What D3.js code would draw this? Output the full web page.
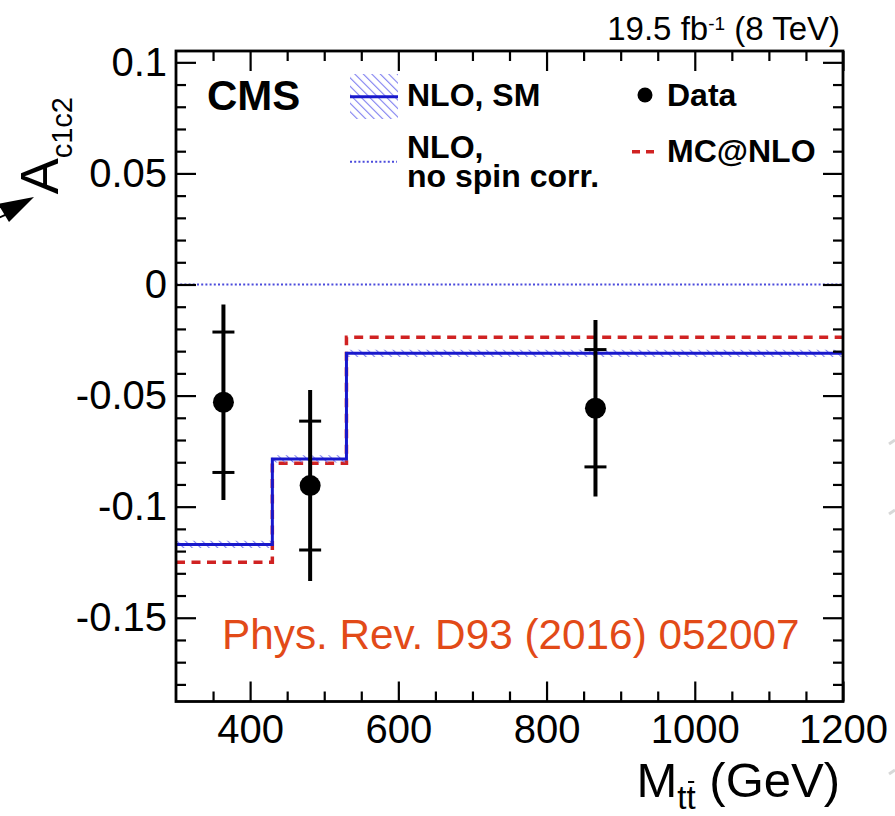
<!DOCTYPE html>
<html>
<head>
<meta charset="utf-8">
<script src="https://cdn.jsdelivr.net/npm/d3@7"></script>
<style>
  html, body { margin: 0; padding: 0; background: #fff; }
  svg { display: block; font-family: "Liberation Sans", Arial, Helvetica, sans-serif; }
</style>
</head>
<body>
<svg id="chart" width="895" height="816"></svg>
<script>
// Bin edges in M_tt (GeV) and predictions per bin
const binEdges = [300, 430, 530, 1200];
const nloSM = [-0.117, -0.0785, -0.031];
const mcAtNlo = [-0.125, -0.0805, -0.0238];
const nloNoSpin = [0, 0, 0];

// Measured points: position, value, statistical and total uncertainty
const dataMass = [364, 481, 866];
const dataValue = [-0.053, -0.0905, -0.0557];
const dataStat = [0.0316, 0.029, 0.0264];
const dataTotal = [0.044, 0.043, 0.0397];

// Axis ticks
const xMajorTicks = [400, 600, 800, 1000, 1200];
const xMinorTicks = [350, 450, 500, 550, 650, 700, 750, 850, 900, 950, 1050, 1100, 1150];
const yMajorTicks = [-0.15, -0.1, -0.05, 0, 0.05, 0.1];
const yMinorTicks = [-0.18, -0.17, -0.16, -0.14, -0.13, -0.12, -0.11, -0.09, -0.08, -0.07, -0.06,
                     -0.04, -0.03, -0.02, -0.01, 0.01, 0.02, 0.03, 0.04, 0.06, 0.07, 0.08, 0.09];

const svg = d3.select("#chart");
const frame = { left: 176, right: 843, top: 51, bottom: 701.5 };

const x = d3.scaleLinear().domain([300, 1200]).range([frame.left, frame.right]);
const y = d3.scaleLinear().domain([-0.1877, 0.1051]).range([frame.bottom, frame.top]);

const defs = svg.append("defs");
const hatch = defs.append("pattern")
  .attr("id", "hatch").attr("patternUnits", "userSpaceOnUse")
  .attr("width", 6).attr("height", 6)
  .attr("patternTransform", "rotate(-45)");
hatch.append("line").attr("x1", 0).attr("y1", 0).attr("x2", 0).attr("y2", 6)
  .attr("stroke", "#7f7ff0").attr("stroke-width", 2.2);
defs.append("clipPath").attr("id", "plotclip").append("rect")
  .attr("x", frame.left).attr("y", frame.top)
  .attr("width", frame.right - frame.left).attr("height", frame.bottom - frame.top);

const plot = svg.append("g").attr("clip-path", "url(#plotclip)");

// Step series: each bin value held until the next edge
function stepPoints(vals) {
  const pts = vals.map((v, i) => [binEdges[i], v]);
  pts.push([binEdges[binEdges.length - 1], vals[vals.length - 1]]);
  return pts;
}
const stepLine = d3.line().x(d => x(d[0])).y(d => y(d[1])).curve(d3.curveStepAfter);
const bandArea = d3.area().x(d => x(d[0]))
  .y0(d => y(d[1] - 0.0016)).y1(d => y(d[1] + 0.0016)).curve(d3.curveStepAfter);

// NLO without spin correlation (dotted)
plot.append("path").attr("d", stepLine(stepPoints(nloNoSpin)))
  .attr("fill", "none").attr("stroke", "#4b4bdc").attr("stroke-width", 2)
  .attr("stroke-dasharray", "2 2.2");

// MC@NLO (dashed red)
plot.append("path").attr("d", stepLine(stepPoints(mcAtNlo)))
  .attr("fill", "none").attr("stroke", "#d02222").attr("stroke-width", 3.5)
  .attr("stroke-dasharray", "9 6.5");

// NLO SM with hatched uncertainty band
plot.append("path").attr("d", bandArea(stepPoints(nloSM))).attr("fill", "url(#hatch)");
plot.append("path").attr("d", stepLine(stepPoints(nloSM)))
  .attr("fill", "none").attr("stroke", "#1818cc").attr("stroke-width", 3);

// Data points with stat (inner ticks) and total uncertainties
const pts = plot.append("g");
dataMass.forEach((m, i) => {
  const cx = x(m);
  pts.append("line").attr("x1", cx).attr("x2", cx)
    .attr("y1", y(dataValue[i] + dataTotal[i])).attr("y2", y(dataValue[i] - dataTotal[i]))
    .attr("stroke", "#000").attr("stroke-width", 4);
  [dataValue[i] + dataStat[i], dataValue[i] - dataStat[i]].forEach(v => {
    pts.append("line").attr("x1", cx - 11).attr("x2", cx + 11)
      .attr("y1", y(v)).attr("y2", y(v))
      .attr("stroke", "#000").attr("stroke-width", 3);
  });
  pts.append("circle").attr("cx", cx).attr("cy", y(dataValue[i])).attr("r", 10.5).attr("fill", "#000");
});

// Axes: ROOT-style inward ticks on all four sides
const fmtY = d => (d === 0 ? "0" : String(d));
function styleAxis(g) {
  g.select(".domain").remove();
  g.selectAll(".tick line").attr("stroke", "#000").attr("stroke-width", 2.2);
  g.selectAll(".tick text").attr("fill", "#000").attr("font-size", 40)
    .attr("font-family", "'Liberation Sans', Arial, sans-serif");
}
svg.append("g").attr("transform", `translate(0,${frame.bottom})`)
  .call(d3.axisBottom(x).tickValues(xMajorTicks).tickSizeInner(-20).tickSizeOuter(0).tickPadding(13.5).tickFormat(d3.format("d")))
  .call(styleAxis);
svg.append("g").attr("transform", `translate(0,${frame.bottom})`)
  .call(d3.axisBottom(x).tickValues(xMinorTicks).tickSizeInner(-10).tickSizeOuter(0).tickFormat(""))
  .call(styleAxis);
svg.append("g").attr("transform", `translate(0,${frame.top})`)
  .call(d3.axisTop(x).tickValues(xMajorTicks).tickSizeInner(-20).tickSizeOuter(0).tickFormat(""))
  .call(styleAxis);
svg.append("g").attr("transform", `translate(0,${frame.top})`)
  .call(d3.axisTop(x).tickValues(xMinorTicks).tickSizeInner(-10).tickSizeOuter(0).tickFormat(""))
  .call(styleAxis);
svg.append("g").attr("transform", `translate(${frame.left},0)`)
  .call(d3.axisLeft(y).tickValues(yMajorTicks).tickSizeInner(-20).tickSizeOuter(0).tickPadding(9).tickFormat(fmtY))
  .call(styleAxis);
svg.append("g").attr("transform", `translate(${frame.left},0)`)
  .call(d3.axisLeft(y).tickValues(yMinorTicks).tickSizeInner(-10).tickSizeOuter(0).tickFormat(""))
  .call(styleAxis);
svg.append("g").attr("transform", `translate(${frame.right},0)`)
  .call(d3.axisRight(y).tickValues(yMajorTicks).tickSizeInner(-20).tickSizeOuter(0).tickFormat(""))
  .call(styleAxis);
svg.append("g").attr("transform", `translate(${frame.right},0)`)
  .call(d3.axisRight(y).tickValues(yMinorTicks).tickSizeInner(-10).tickSizeOuter(0).tickFormat(""))
  .call(styleAxis);

svg.append("rect").attr("x", frame.left).attr("y", frame.top)
  .attr("width", frame.right - frame.left).attr("height", frame.bottom - frame.top)
  .attr("fill", "none").attr("stroke", "#000").attr("stroke-width", 2.8);

// Axis titles
const xTitle = svg.append("text").attr("x", 840).attr("y", 797)
  .attr("text-anchor", "end").attr("font-size", 49).attr("fill", "#000");
xTitle.append("tspan").text("M");
xTitle.append("tspan").attr("font-size", 33).attr("dy", 12).text("t");
xTitle.append("tspan").attr("font-size", 33).text("t");
xTitle.append("tspan").attr("dy", -12).text(" (GeV)");
// bar over the anti-top subscript, placed from the rendered glyph extent
{
  const box = xTitle.node().getExtentOfChar(2);
  svg.append("line")
    .attr("x1", box.x + 1.5).attr("x2", box.x + box.width - 1.5)
    .attr("y1", 782).attr("y2", 782)
    .attr("stroke", "#000").attr("stroke-width", 2);
}

const yTitle = svg.append("text")
  .attr("transform", "translate(58,97) rotate(-90)")
  .attr("text-anchor", "end").attr("font-size", 54).attr("fill", "#000");
yTitle.append("tspan").text("A");
yTitle.append("tspan").attr("font-size", 29).attr("dy", 14).text("c1c2");

// Luminosity / energy label
const lumi = svg.append("text").attr("x", 840).attr("y", 40)
  .attr("text-anchor", "end").attr("font-size", 33).attr("fill", "#000");
lumi.append("tspan").text("19.5 fb");
lumi.append("tspan").attr("font-size", 19).attr("dy", -10).text("-1");
lumi.append("tspan").attr("dy", 10).text(" (8 TeV)");

// CMS mark
svg.append("text").attr("x", 207).attr("y", 110).attr("font-size", 42)
  .attr("font-weight", "bold").text("CMS");

// Legend
const leg = svg.append("g").attr("font-size", 32).attr("font-weight", "bold").attr("fill", "#000");
leg.append("rect").attr("x", 350).attr("y", 74).attr("width", 48).attr("height", 45).attr("fill", "url(#hatch)");
leg.append("line").attr("x1", 350).attr("x2", 398).attr("y1", 96.7).attr("y2", 96.7)
  .attr("stroke", "#1818cc").attr("stroke-width", 3);
leg.append("text").attr("x", 407).attr("y", 106).text("NLO, SM");
leg.append("line").attr("x1", 350).attr("x2", 397).attr("y1", 161.7).attr("y2", 161.7)
  .attr("stroke", "#4b4bdc").attr("stroke-width", 2).attr("stroke-dasharray", "2 2.2");
const twoLine = leg.append("text").attr("x", 407).attr("y", 157.5);
twoLine.append("tspan").attr("x", 407).text("NLO,");
twoLine.append("tspan").attr("x", 407).attr("dy", 29.5).text("no spin corr.");
leg.append("circle").attr("cx", 645).attr("cy", 95).attr("r", 7.5).attr("fill", "#000");
leg.append("text").attr("x", 667).attr("y", 106).text("Data");
leg.append("line").attr("x1", 632).attr("x2", 656).attr("y1", 151.7).attr("y2", 151.7)
  .attr("stroke", "#d02222").attr("stroke-width", 3.5).attr("stroke-dasharray", "8 6");
leg.append("text").attr("x", 667).attr("y", 162).text("MC@NLO");

// Publication reference
svg.append("text").attr("x", 222).attr("y", 649).attr("font-size", 42.3)
  .attr("fill", "#e24a18").text("Phys. Rev. D93 (2016) 052007");

// Pointer arrow head at the left edge
svg.append("path").attr("d", "M34,197 L9,222 L-2,204 Z").attr("fill", "#000");
svg.append("line").attr("x1", 14).attr("y1", 211).attr("x2", -4).attr("y2", 219)
  .attr("stroke", "#000").attr("stroke-width", 2);

// Faint marks along the right margin
[442, 512, 772].forEach(yy => {
  svg.append("line").attr("x1", 889).attr("x2", 895).attr("y1", yy + 2).attr("y2", yy - 2)
    .attr("stroke", "#d8d8d8").attr("stroke-width", 3);
});
</script>
</body>
</html>
